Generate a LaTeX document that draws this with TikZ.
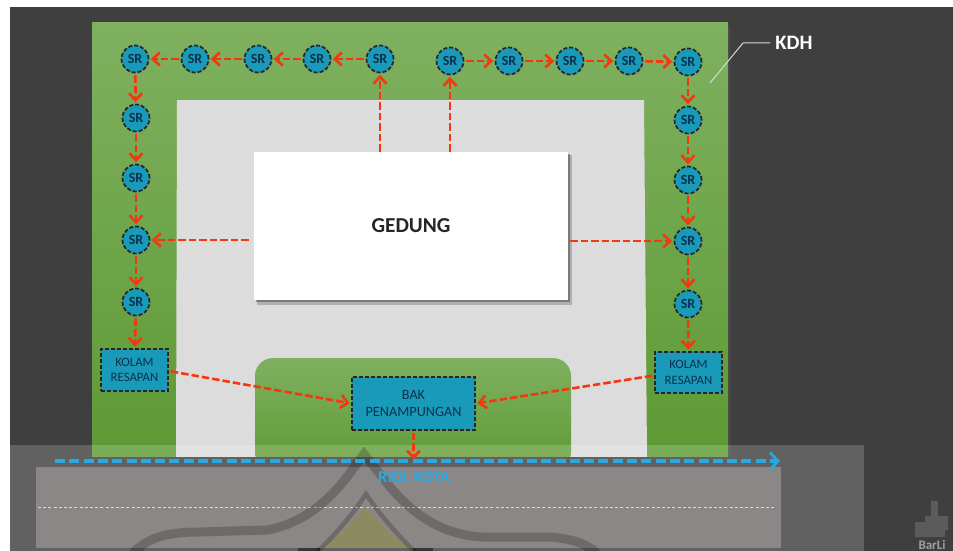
\documentclass[tikz,border=0pt]{standalone}
\usepackage{fontspec}
\setmainfont{Carlito}
\usetikzlibrary{arrows.meta,shadows,calc}
\definecolor{bgdark}{HTML}{3F3F3F}
\definecolor{gtop}{HTML}{7FB060}
\definecolor{gbot}{HTML}{5E9A34}
\definecolor{pave}{HTML}{DCDCDC}
\definecolor{teal}{HTML}{1A9AB9}
\definecolor{ink}{HTML}{0A3150}
\definecolor{redline}{HTML}{F5370F}
\definecolor{blueline}{HTML}{2AA8E2}
\definecolor{road}{HTML}{8C8787}
\definecolor{olive}{HTML}{8C8A60}
\tikzset{
  x=1pt,y=-1pt,
  srnode/.style={circle,minimum size=27pt,inner sep=0pt,fill=teal,draw=black!85,line width=1.7pt,dash pattern=on 4pt off 2pt,text=ink,font=\fontsize{14}{14}\selectfont\bfseries,drop shadow={shadow xshift=1pt,shadow yshift=-1pt,opacity=.3}},
  tank/.style={rectangle,inner sep=0pt,fill=teal,draw=black!85,line width=1.7pt,dash pattern=on 4pt off 2pt,text=ink,align=center,font=\fontsize{12.8}{15.5}\selectfont,drop shadow={shadow xshift=1pt,shadow yshift=-1pt,opacity=.3}},
  flow/.style={draw=redline,line width=2.6pt,dash pattern=on 7.5pt off 3pt,-{Straight Barb[length=7pt,width=13pt,line width=2.6pt]},shorten >=1.5pt,shorten <=2pt},
  zone/.style={top color=gtop,bottom color=gbot},
  riol/.style={draw=blueline,line width=3.2pt,dash pattern=on 10pt off 4.3pt,-{Straight Barb[length=8pt,width=17pt,line width=2.8pt]}},
  wmark/.style={draw=black,opacity=.21,line width=9pt,line join=miter},
}
\begin{document}
\begin{tikzpicture}
\useasboundingbox (0,0) rectangle (953,551);
\clip (0,0) rectangle (953,551);
\fill[white] (0,0) rectangle (953,551);
\fill[bgdark] (10,7) rectangle (953,551);
% site
\fill[black!70,opacity=.5] (96,27) rectangle (731,457);
\shade[zone] (92,23) rectangle (728,457);
\fill[pave] (177,100) -- (644,100) -- (647,457) -- (176,457) -- cycle;
\shade[zone,rounded corners=18pt] (255,470) -- (255,358) -- (571,358) -- (571,470) -- cycle;
% overlay band and road
\fill[bgdark] (10,457) rectangle (953,551);
\fill[white,opacity=.18] (10,445) rectangle (864,551);
\fill[road] (36,467) rectangle (781,548);
\draw[white!85!black,line width=.8pt,dash pattern=on 3pt off 2.2pt] (38,507) -- (775,507);
% watermark
\fill[olive] (366,507) .. controls (350,525) and (335,540) .. (320,548) -- (413,548) .. controls (396,540) and (380,525) .. (366,507) -- cycle;
\draw[wmark] (133,553) .. controls (148,538) and (165,532) .. (200,532) -- (267,530) .. controls (300,524) and (325,505) .. (347,477) -- (364,454) -- (387,483) .. controls (410,512) and (440,535) .. (483,537) -- (547,537) .. controls (570,538) and (585,543) .. (597,553);
\draw[wmark,line width=4.5pt] (317,552) .. controls (335,535) and (350,518) .. (366,494) .. controls (382,518) and (398,535) .. (415,552);
\fill[black,opacity=.45] (298,548) rectangle (320,551);
\fill[black,opacity=.45] (413,548) rectangle (433,551);
% building
\fill[black,opacity=.2] (257,155) rectangle (572,305);
\fill[black,opacity=.3] (256,154) rectangle (570,302);
\node[fill=white,minimum width=314pt,minimum height=148pt,inner sep=0pt,font=\fontsize{21.3}{21}\selectfont\bfseries,text=black!85] (gedung) at (411,226) {\raisebox{-1pt}{GEDUNG}};
% SR nodes
\node[srnode] (a1) at (135,59) {SR};
\node[srnode] (a2) at (195,59) {SR};
\node[srnode] (a3) at (258,59) {SR};
\node[srnode] (a4) at (317,59) {SR};
\node[srnode] (a5) at (380,59) {SR};
\node[srnode] (b1) at (450,61) {SR};
\node[srnode] (b2) at (509,61) {SR};
\node[srnode] (b3) at (570,61) {SR};
\node[srnode] (b4) at (629,61) {SR};
\node[srnode] (b5) at (688,62) {SR};
\node[srnode] (c1) at (136,118) {SR};
\node[srnode] (c2) at (136,178) {SR};
\node[srnode] (c3) at (136,240) {SR};
\node[srnode] (c4) at (136,302) {SR};
\node[srnode] (d1) at (688,120) {SR};
\node[srnode] (d2) at (688,180) {SR};
\node[srnode] (d3) at (688,241) {SR};
\node[srnode] (d4) at (688,304) {SR};
\node[tank,minimum width=67pt,minimum height=42pt] (kl) at (134.5,370) {KOLAM\\RESAPAN};
\node[tank,minimum width=67pt,minimum height=41pt] (kr) at (688.5,372.5) {KOLAM\\RESAPAN};
\node[tank,minimum width=123pt,minimum height=53pt,font=\fontsize{14.2}{17}\selectfont] (bak) at (413.5,403.5) {BAK\\PENAMPUNGAN};
% connectors
\draw[flow] (a5) -- (a4);
\draw[flow] (a4) -- (a3);
\draw[flow] (a3) -- (a2);
\draw[flow] (a2) -- (a1);
\draw[flow] (a1) -- (c1);
\draw[flow] (c1) -- (c2);
\draw[flow] (c2) -- (c3);
\draw[flow] (c3) -- (c4);
\draw[flow] (c4) -- (kl);
\draw[flow] (b1) -- (b2);
\draw[flow] (b2) -- (b3);
\draw[flow] (b3) -- (b4);
\draw[flow] (b4) -- (b5);
\draw[flow] (b5) -- (d1);
\draw[flow] (d1) -- (d2);
\draw[flow] (d2) -- (d3);
\draw[flow] (d3) -- (d4);
\draw[flow] (d4) -- (kr);
\draw[flow,shorten <=0pt] (a5 |- gedung.north) -- (a5);
\draw[flow,shorten <=0pt] (b1 |- gedung.north) -- (b1);
\draw[flow,shorten <=5pt] (gedung.west |- c3) -- (c3);
\draw[flow] (gedung.east |- d3) -- (d3);
\draw[flow] (kl.east) ++(0,1) -- (bak.west);
\draw[flow] (kr.west) ++(0,3) -- (bak.east);
% city sewer
\coordinate (rs) at (55,461);
\coordinate (re) at (780,461);
\draw[riol] (rs) -- (re);
\draw[flow] (bak.south) -- (bak.south |- re);
\node[font=\fontsize{16.5}{16}\selectfont\bfseries,text=blueline,inner sep=0pt] (rk) at (414,477) {RIOL KOTA};
% KDH callout
\node[font=\fontsize{20.5}{20}\selectfont\bfseries,text=white,inner sep=0pt] (kdh) at (794,43) {KDH};
\coordinate (kp) at (710,83);
\draw[white!85!black,line width=1pt,shorten >=5pt] (kp) -- (743,43) -- (kdh.west);
% logo
\fill[white,opacity=.15] (915,522) -- (925,522) -- (925,516) -- (931,516) -- (931,501) -- (938,501) -- (938,516) -- (948,516) -- (948,530) -- (945,530) -- (945,537) -- (915,537) -- cycle;
\node[font=\fontsize{13}{13}\selectfont\bfseries,text=white!50!bgdark,inner sep=0pt,anchor=base] (logo) at (932,549.5) {BarLi};
\end{tikzpicture}
\end{document}
